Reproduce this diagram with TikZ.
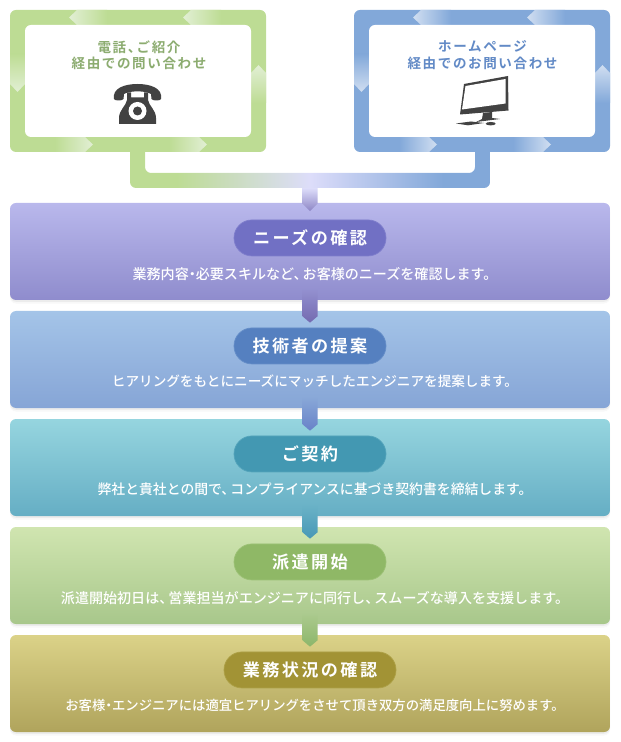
\documentclass[tikz,border=0pt]{standalone}
\usepackage{fontspec}
\usetikzlibrary{calc,shadows}
\newfontfamily\titlefont[LetterSpace=14]{Noto Sans CJK JP Bold}
\newfontfamily\cardfont[LetterSpace=12]{Noto Sans CJK JP Bold}
\newfontfamily\descfont{Noto Sans CJK JP Medium}
\def\px{0.02cm}
\newcommand\tenmark{、\kern-.35em}
\newcommand\dotmark{\kern-.25em・\kern-.25em}

\definecolor{grnfrm}{RGB}{189,220,148}
\definecolor{grnlit}{RGB}{226,239,212}
\definecolor{grntxt}{RGB}{140,172,112}
\definecolor{blufrm}{RGB}{130,168,217}
\definecolor{blulit}{RGB}{208,222,241}
\definecolor{blutxt}{RGB}{98,138,198}
\definecolor{lavlit}{RGB}{221,221,250}
\definecolor{icondk}{RGB}{66,66,66}

\definecolor{boxtop1}{RGB}{185,184,236}
\definecolor{boxbot1}{RGB}{143,140,205}
\definecolor{pill1}{RGB}{113,112,196}
\definecolor{arrend1}{RGB}{116,106,176}
\definecolor{boxtop2}{RGB}{164,196,232}
\definecolor{boxbot2}{RGB}{134,165,214}
\definecolor{pill2}{RGB}{85,128,192}
\definecolor{arrend2}{RGB}{104,130,200}
\definecolor{boxtop3}{RGB}{150,213,223}
\definecolor{boxbot3}{RGB}{101,174,196}
\definecolor{pill3}{RGB}{67,152,178}
\definecolor{arrend3}{RGB}{72,152,182}
\definecolor{boxtop4}{RGB}{208,229,176}
\definecolor{boxbot4}{RGB}{168,199,139}
\definecolor{pill4}{RGB}{143,184,102}
\definecolor{arrend4}{RGB}{140,182,106}
\definecolor{boxtop5}{RGB}{219,210,136}
\definecolor{boxbot5}{RGB}{176,164,92}
\definecolor{pill5}{RGB}{162,147,53}

\pgfdeclarehorizontalshading{linkshade}{100bp}{
    color(0bp)=(grnfrm); color(31.5bp)=(grnfrm); color(50bp)=(lavlit);
    color(68.5bp)=(blufrm); color(100bp)=(blufrm)}

\tikzset{
    framebox/.style={minimum width=256*\px,minimum height=142*\px,rounded corners=6*\px,inner sep=0pt},
    cardbox/.style={fill=white,minimum width=226*\px,minimum height=112*\px,rounded corners=6*\px,inner sep=0pt},
    cardtext/.style={align=center,inner sep=0pt,font=\cardfont\fontsize{7.7pt}{9.3pt}\selectfont},
    stepbox/.style={minimum width=600*\px,minimum height=97*\px,rounded corners=6*\px,inner sep=0pt,
        drop shadow={shadow xshift=0pt,shadow yshift=-1pt,opacity=.1},
        drop shadow={shadow xshift=0pt,shadow yshift=-2pt,opacity=.06}},
    steppill/.style={minimum height=36*\px,rounded corners=17.9*\px,inner sep=0pt,text=white,
        font=\titlefont\fontsize{9.75pt}{11pt}\selectfont},
    steptext/.style={text=white,inner sep=0pt,font=\descfont},
}

\begin{document}
\begin{tikzpicture}[x=0.02cm,y=-0.02cm]
    \useasboundingbox (0,0) rectangle (620,742);

    % link under the two frames
    \shade [shading=linkshade,rounded corners=6*\px]
        (130,146) -- (130,188) -- (490,188) -- (490,146) -- (475,146)
        -- (475,173) -- (145,173) -- (145,146) -- cycle;

    % the two frames with their running arrows
    \foreach \dx/\frm/\lit/\nam in {0/grnfrm/grnlit/tel,344/blufrm/blulit/web} {
        \node [framebox,fill=\frm] (frame\nam) at (138+\dx,81) {};
        \foreach \tip in {69,183}
            \shade [left color=\lit,right color=\frm]
                (\tip+\dx,17.5) -- (\tip+8+\dx,10) -- (\tip+38+\dx,10) -- (\tip+38+\dx,25) -- (\tip+8+\dx,25) -- cycle;
        \foreach \tip in {93,207}
            \shade [left color=\frm,right color=\lit]
                (\tip+\dx,144.5) -- (\tip-8+\dx,152) -- (\tip-38+\dx,152) -- (\tip-38+\dx,137) -- (\tip-8+\dx,137) -- cycle;
        \shade [top color=\frm,bottom color=\lit]
            (17.5+\dx,92) -- (10+\dx,84) -- (10+\dx,54) -- (25+\dx,54) -- (25+\dx,84) -- cycle;
        \shade [top color=\lit,bottom color=\frm]
            (258.5+\dx,65) -- (251+\dx,73) -- (251+\dx,103) -- (266+\dx,103) -- (266+\dx,73) -- cycle;
        \node [cardbox] (card\nam) at (138+\dx,81) {};
    }
    \node [cardtext,text=grntxt] (teltext) at (139,55) {電話\tenmark ご紹介\\経由での問い合わせ};
    \node [cardtext,text=blutxt] (webtext) at (482.5,55) {ホームページ\\経由でのお問い合わせ};

    % telephone
    \fill [icondk] (114,99) .. controls (112,88) and (125,84) .. (137.5,84)
        .. controls (150,84) and (163,88) .. (161,99)
        .. controls (161,101) and (152,101) .. (151.5,99) -- (151,94)
        .. controls (146,90.5) and (129,90.5) .. (124,94) -- (123.5,99)
        .. controls (123,101) and (114,101) .. (114,99) -- cycle;
    \fill [icondk] (119,124) -- (119,118) .. controls (119,110) and (126,106) .. (127,100)
        -- (127,92.5) -- (131,92.5) -- (131,97.5) -- (144,97.5) -- (144,92.5) -- (148,92.5) -- (148,100)
        .. controls (149,106) and (156,110) .. (156,118) -- (156,124) -- cycle;
    \fill [white] (137.5,111) circle [radius=9];
    \fill [icondk] (137.5,111) circle [radius=4.5];

    % monitor
    \fill [icondk] (464,84) -- (508,76) -- (508.5,110.5) -- (460,114.5) -- cycle;
    \fill [white] (465.5,86) -- (505.5,79) -- (505.5,103.5) -- (462,109.5) -- cycle;
    \fill [icondk] (483,113) -- (492,112) -- (492,118) -- (500,119) -- (476,122) -- (482,119) -- cycle;
    \fill [icondk] (456,123.5) -- (471,121.5) -- (484,123) -- (468,125.3) -- cycle;
    \fill [icondk] (490.7,123.7) ellipse [x radius=5,y radius=1.7];

    % the five steps
    \foreach \i/\ty in {1/203,2/311,3/419,4/527,5/635}
        \node [stepbox,top color=boxtop\i,bottom color=boxbot\i] (box\i) at (310,\ty+48.5) {};

    \coordinate (linkmid) at (310,188);
    \shade [top color=lavlit,bottom color=boxtop1!35!arrend1]
        ($(linkmid)+(-7.5,0)$) -- ($(linkmid)+(7.5,0)$) -- ($(box1.north)+(7.5,1)$)
        -- ($(box1.north)+(0,8.5)$) -- ($(box1.north)+(-7.5,1)$) -- cycle;
    \foreach \a/\b in {1/2,2/3,3/4,4/5}
        \shade [top color=boxbot\a!88!boxtop\a,bottom color=arrend\a]
            ($(box\a.south)+(-7.5,-12)$) -- ($(box\a.south)+(7.5,-12)$) -- ($(box\b.north)+(7.5,5.7)$)
            -- ($(box\b.north)+(0,12)$) -- ($(box\b.north)+(-7.5,5.7)$) -- cycle;

    \foreach \i/\pw/\dfs/\ttl/\dsc in {
        1/152/8.0/{ニーズの確認}/{業務内容\dotmark 必要スキルなど\tenmark お客様のニーズを確認します。},
        2/152/7.75/{技術者の提案}/{ヒアリングをもとにニーズにマッチしたエンジニアを提案します。},
        3/152/7.88/{ご契約}/{弊社と貴社との間で\tenmark コンプライアンスに基づき契約書を締結します。},
        4/152/8.0/{派遣開始}/{派遣開始初日は\tenmark 営業担当がエンジニアに同行し\tenmark スムーズな導入を支援します。},
        5/172/7.6/{業務状況の確認}/{お客様\dotmark エンジニアには適宜ヒアリングをさせて頂き双方の満足度向上に努めます。}} {
        \node [steppill,fill=pill\i,draw=pill\i!80!boxtop\i,minimum width=\pw*\px] (pill\i) at ($(box\i.north)+(0,35.3)$) {\ttl};
        \node [steptext] (desc\i) at ($(box\i.north)+(5,71)$) {\fontsize{\dfs pt}{9pt}\selectfont\dsc};
    }
\end{tikzpicture}
\end{document}
